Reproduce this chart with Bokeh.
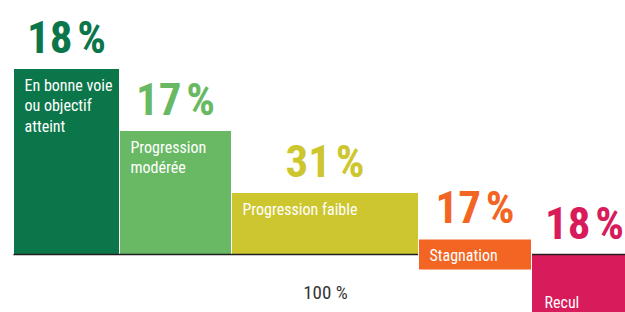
from bokeh.plotting import figure
from bokeh.models import Range1d, ColumnDataSource
from bokeh.core.properties import value
from bokeh.embed import file_html
from bokeh.resources import INLINE

# ---- data ----
categories = ["En bonne voie\nou objectif\natteint", "Progression\nmodérée",
              "Progression faible", "Stagnation", "Recul"]
shares = [18, 17, 31, 17, 18]              # percent labels
col_widths = [106, 112, 187, 113, 106]     # column widths (chart units)
levels = [3, 2, 1, 0, -1]                  # step level of each column
colors = ["#0b7649", "#69b964", "#cdc62f", "#f26522", "#d81b5a"]
total_label = "100 %"

# ---- styles ----
FONT = "'Roboto Condensed', 'DejaVu Sans Condensed', 'Liberation Sans Narrow', Roboto, sans-serif"
STAG_HALF = 0.25

lefts, acc = [], 0
for w in col_widths:
    lefts.append(acc)
    acc += w
rights = [l + w for l, w in zip(lefts, col_widths)]
total = acc
centers = [(l + r) / 2 for l, r in zip(lefts, rights)]
tops = [lv if lv > 0 else (STAG_HALF if lv == 0 else 0) for lv in levels]
bottoms = [0 if lv > 0 else (-STAG_HALF if lv == 0 else lv) for lv in levels]

p = figure(width=625, height=312, output_backend="svg", toolbar_location=None,
           x_range=Range1d(-13, 612), y_range=Range1d(-58 / 62, 254 / 62),
           min_border=0)
p.axis.visible = False
p.grid.visible = False
p.outline_line_color = None
p.background_fill_color = "white"
p.border_fill_color = "white"

idx_main = [i for i, lv in enumerate(levels) if lv != 0]
idx_zero = [i for i, lv in enumerate(levels) if lv == 0]

def sub(ix):
    return ColumnDataSource(dict(
        left=[lefts[i] for i in ix], right=[rights[i] for i in ix],
        top=[tops[i] for i in ix], bottom=[bottoms[i] for i in ix],
        color=[colors[i] for i in ix]))

p.quad(left="left", right="right", top="top", bottom="bottom", fill_color="color",
       line_color="white", line_width=1, source=sub(idx_main))
p.segment(x0=[0], y0=[0], x1=[total], y1=[0], line_color="#231f20", line_width=1.6)
p.quad(left="left", right="right", top="top", bottom="bottom", fill_color="color",
       line_color="white", line_width=1, source=sub(idx_zero))

# big percentage labels
big = ColumnDataSource(dict(x=centers, y=tops, text=[f"{s}\u200a%" for s in shares], color=colors))
p.text(x="x", y="y", text="text", text_color="color", source=big,
       text_align="center", text_baseline="bottom", y_offset=-5,
       text_font=value(FONT), text_font_size="45px", text_font_style="bold")

# inner labels
up = [i for i, lv in enumerate(levels) if lv >= 0]
dn = [i for i, lv in enumerate(levels) if lv < 0]
src_up = ColumnDataSource(dict(x=[lefts[i] for i in up], y=[tops[i] for i in up],
                               text=[categories[i] for i in up]))
p.text(x="x", y="y", text="text", source=src_up, text_color="white",
       text_align="left", text_baseline="top", x_offset=11, y_offset=7,
       text_font=value(FONT), text_font_size="16px", text_line_height=1.08)
src_dn = ColumnDataSource(dict(x=[lefts[i] for i in dn], y=[tops[i] for i in dn],
                               text=[categories[i] for i in dn]))
p.text(x="x", y="y", text="text", source=src_dn, text_color="white",
       text_align="left", text_baseline="middle", x_offset=13, y_offset=48,
       text_font=value(FONT), text_font_size="16px")

# total label
p.text(x=[total / 2], y=[0], text=[total_label], text_color="#333333",
       text_align="center", text_baseline="middle", y_offset=38,
       text_font=value(FONT), text_font_size="19px")

open("out.html", "w").write(file_html(p, INLINE))
